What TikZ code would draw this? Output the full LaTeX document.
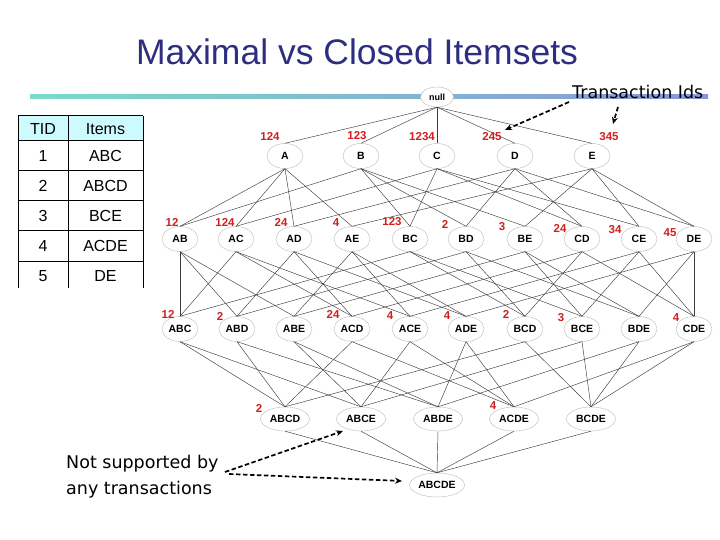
\documentclass[tikz,border=0pt]{standalone}
\usepackage{fontspec}
\setmainfont{Liberation Sans}
\newfontfamily\tahoma{DejaVu Sans}
\usetikzlibrary{shapes.geometric,arrows.meta}
\definecolor{titleblue}{RGB}{46,46,128}
\definecolor{cntred}{RGB}{210,30,30}
\definecolor{hdrcyan}{RGB}{204,250,255}
\definecolor{lineL}{RGB}{120,220,200}
\definecolor{lineR}{RGB}{140,150,215}
\definecolor{edgegray}{RGB}{60,60,60}
\tikzset{
 setnode/.style={ellipse, draw=gray!55, line width=0.4pt, fill=white, inner sep=0pt, minimum width=36pt, minimum height=25pt, font=\fontsize{10.5}{12}\selectfont\bfseries},
 bignode/.style={setnode, minimum width=49pt, minimum height=24pt},
 cnt/.style={text=cntred, font=\fontsize{11.5}{13}\selectfont\bfseries, inner sep=0pt},
 edge/.style={draw=edgegray, line width=0.45pt},
 note/.style={font=\tahoma\fontsize{17.5}{21}\selectfont, inner sep=0pt, anchor=base west},
 callout/.style={draw=black, line width=1.7pt, dash pattern=on 4.5pt off 2.5pt, -{Stealth[length=7pt,width=6pt]}},
 tabtext/.style={font=\fontsize{16}{19}\selectfont, inner sep=0pt},
 tabline/.style={draw=black, line width=1pt},
}
\begin{document}
\begin{tikzpicture}[x=1pt,y=-1pt]
\useasboundingbox (0,0) rectangle (720,540);
% title
\node[text=titleblue, font=\fontsize{35.5}{40}\selectfont, anchor=base, inner sep=0pt] (title) at (357,65) {Maximal vs Closed Itemsets};
% gradient rule
\shade[left color=lineL, right color=lineR] (30,95) rectangle (708,99);
% table
\fill[hdrcyan] (18,116) rectangle (143,141);
\foreach \yy in {116,141,171,201,231,261} \draw[tabline] (18,\yy) -- (143,\yy);
\foreach \xx in {18,68,143} \draw[tabline] (\xx,116) -- (\xx,288);
\node[tabtext] (th1) at (43,129) {TID};
\node[tabtext] (th2) at (105.5,129) {Items};
\foreach \i/\yy/\it in {1/156/ABC,2/186/ABCD,3/216/BCE,4/246/ACDE,5/276/DE}{
  \node[tabtext] (tid\i) at (43,\yy) {\i};
  \node[tabtext] (tit\i) at (105.5,\yy) {\it};
}
% lattice nodes
\node[setnode, minimum width=33pt, minimum height=20pt, font=\fontsize{9}{11}\selectfont\bfseries] (null) at (437,97) {null};
\foreach \n/\xx in {A/285,B/361,C/437,D/515,E/592}
  \node[setnode] (\n) at (\xx,156) {\n};
\foreach \n/\xx in {AB/180,AC/236,AD/294,AE/352,BC/410,BD/466,BE/525,CD/582,CE/639,DE/694}
  \node[setnode] (\n) at (\xx,239) {\n};
\foreach \n/\xx in {ABC/180,ABD/237,ABE/294,ACD/352,ACE/410,ADE/466,BCD/525,BCE/582,BDE/639,CDE/694}
  \node[setnode] (\n) at (\xx,329) {\n};
\foreach \n/\xx in {ABCD/285,ABCE/361,ABDE/438,ACDE/514,BCDE/591}
  \node[bignode] (\n) at (\xx,419) {\n};
\node[bignode, minimum width=55pt, minimum height=24pt] (ABCDE) at (437,485) {ABCDE};
% edges
\foreach \c/\p in {A/null,B/null,C/null,D/null,E/null,
  AB/A,AB/B,AC/A,AC/C,AD/A,AD/D,AE/A,AE/E,BC/B,BC/C,BD/B,BD/D,BE/B,BE/E,CD/C,CD/D,CE/C,CE/E,DE/D,DE/E,
  ABC/AB,ABC/AC,ABC/BC,ABD/AB,ABD/AD,ABD/BD,ABE/AB,ABE/AE,ABE/BE,ACD/AC,ACD/AD,ACD/CD,
  ACE/AC,ACE/AE,ACE/CE,ADE/AD,ADE/AE,ADE/DE,BCD/BC,BCD/BD,BCD/CD,BCE/BC,BCE/BE,BCE/CE,
  BDE/BD,BDE/BE,BDE/DE,CDE/CD,CDE/CE,CDE/DE,
  ABCD/ABC,ABCD/ABD,ABCD/ACD,ABCD/BCD,ABCE/ABC,ABCE/ABE,ABCE/ACE,ABCE/BCE,
  ABDE/ABD,ABDE/ABE,ABDE/ADE,ABDE/BDE,ACDE/ACD,ACDE/ACE,ACDE/ADE,ACDE/CDE,
  BCDE/BCD,BCDE/BCE,BCDE/BDE,BCDE/CDE,
  ABCDE/ABCD,ABCDE/ABCE,ABCDE/ABDE,ABCDE/ACDE,ABCDE/BCDE}
  \draw[edge] (\p.south) -- (\c.north);
% counts
\node[cnt] (cA) at (270,136) {124};
\node[cnt] (cB) at (357,136) {123};
\node[cnt] (cC) at (422,137) {1234};
\node[cnt] (cD) at (492,137) {245};
\node[cnt] (cE) at (609,137) {345};
\node[cnt] (cAB) at (172,222) {12};
\node[cnt] (cAC) at (225,222) {124};
\node[cnt] (cAD) at (281,222) {24};
\node[cnt] (cAE) at (336,223) {4};
\node[cnt] (cBC) at (392,222) {123};
\node[cnt] (cBD) at (445,224) {2};
\node[cnt] (cBE) at (502,227) {3};
\node[cnt] (cCD) at (560,228) {24};
\node[cnt] (cCE) at (615,230) {34};
\node[cnt] (cDE) at (670,233) {45};
\node[cnt] (cABC) at (168,314) {12};
\node[cnt] (cABD) at (220,316) {2};
\node[cnt] (cACD) at (333,314) {24};
\node[cnt] (cACE) at (390,316) {4};
\node[cnt] (cADE) at (447,316) {4};
\node[cnt] (cBCD) at (506,314) {2};
\node[cnt] (cBCE) at (561,318) {3};
\node[cnt] (cCDE) at (676,318) {4};
\node[cnt] (cABCD) at (259,408) {2};
\node[cnt] (cACDE) at (493,406) {4};
% annotations
\node[note] (tids) at (572,99) {Transaction Ids};
\node[note] (ns1) at (66,468) {Not supported by};
\node[note] (ns2) at (66,494) {any transactions};
\coordinate (t1s) at (569,102);
\coordinate (t1e) at (505,130);
\coordinate (t2s) at (618,107);
\coordinate (t2e) at (613,124);
\coordinate (n1s) at (225,472);
\coordinate (n1e) at (343,431);
\coordinate (n2s) at (229,474);
\coordinate (n2e) at (402,481);
\draw[callout] (t1s) -- (t1e);
\draw[callout] (t2s) -- (t2e);
\draw[callout] (n1s) -- (n1e);
\draw[callout] (n2s) -- (n2e);
\end{tikzpicture}
\end{document}
